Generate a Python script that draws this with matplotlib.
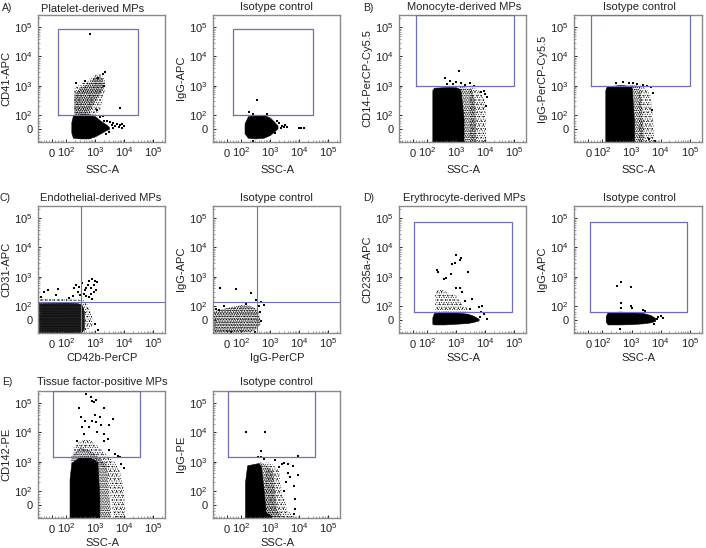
import matplotlib
matplotlib.use("Agg")
import matplotlib.pyplot as plt

W, H = 706, 548
LILAC = "#6f6fb5"
plt.rcParams["font.family"] = ["Liberation Sans", "DejaVu Sans"]
plt.rcParams["mathtext.default"] = "regular"
plt.rcParams["hatch.linewidth"] = 0.35

tick_vals = [0, 100, 1000, 10000, 100000]
tick_text = ["0", "$10^{2}$", "$10^{3}$", "$10^{4}$", "$10^{5}$"]
minor_vals = [-80, -60, -40, -20, 20, 40, 60, 80, 200, 300, 400, 500, 600, 700, 800, 900,
              2000, 3000, 4000, 5000, 6000, 7000, 8000, 9000,
              20000, 30000, 40000, 50000, 60000, 70000, 80000, 90000, 200000]

# each envelope row is x, low y, high y
a1_solid = [(150, -25, 50), (170, -60, 95), (300, -65, 105), (600, -65, 105), (1000, -50, 90), (1500, -30, 60), (2500, -5, 30), (3000, 0, 15)]
a1_mid = [(190, 100, 500), (300, 100, 800), (600, 110, 1200), (1000, 300, 2000), (1500, 500, 2000), (1900, 800, 1500)]
a1_thin = [(190, 100, 800), (300, 100, 1100), (600, 100, 1500), (1000, 100, 2300), (1500, 150, 2500), (2200, 800, 1600)]
a1_dots = [(650, 60000), (2200, 2900), (7500, 170), (1800, 90), (2600, 60), (3200, 50), (3800, 30), (4300, 45), (5000, 20), (5600, 35), (6500, 18), (7000, 30), (8200, 10), (8800, 35), (10000, 25), (4000, 5), (3000, -20), (2400, -35), (2000, 55), (1500, 85), (1300, 1800), (1900, 2500), (210, 1200), (450, 1500), (2100, 1000), (1200, 150)]

a2_solid = [(130, -30, 40), (170, -60, 90), (300, -65, 100), (600, -60, 100), (1000, -40, 80), (1400, -15, 50), (1800, 5, 25)]
a2_dots = [(350, 330), (190, 130), (250, 110), (800, 105), (2000, 40), (2300, 10), (2600, 25), (3000, 18), (3300, 28), (3700, 12), (10000, 8), (12000, 6), (15000, 8), (1700, 55), (250, -80), (1500, -30)]

b1_solid = [(150, -90, 700), (170, -90, 850), (500, -90, 900), (1000, -90, 880), (1400, -90, 750), (1800, -90, 80)]
b1_mid = [(1300, -90, 900), (2200, -90, 850), (3500, -90, 750), (4500, -90, 300), (5000, -90, -50)]
b1_thin = [(3000, -90, 880), (5000, -90, 800), (8000, -90, 500), (10000, -90, 300), (11000, -90, -50)]
b1_dots = [(1300, 3200), (400, 1900), (600, 1400), (1000, 1300), (1500, 1200), (800, 1100), (2000, 1050), (3000, 1200), (4000, 1000), (500, 1100), (7000, 600), (9000, 650), (10000, 500), (12000, 400), (11000, 200)]

b2_solid = [(125, -90, 700), (140, -90, 950), (400, -90, 1050), (800, -90, 1000), (1000, -90, 950), (1200, -90, 60)]
b2_mid = [(900, -90, 1050), (1500, -90, 1000), (2000, -90, 700), (2400, -90, 100), (2600, -90, -50)]
b2_thin = [(1800, -90, 1050), (3000, -90, 800), (4500, -90, 500), (5500, -90, 50), (6000, -90, -60)]
b2_dots = [(300, 1250), (500, 1300), (800, 1250), (1100, 1200), (1500, 1150), (2500, 1050), (3500, 950), (4500, 900), (5500, 550), (5000, 150), (4000, -70), (6500, -85)]

c1_dense = [(-100, -90, 125), (100, -90, 130), (250, -90, 125), (350, -85, 110), (420, -60, 60)]
c1_thin = [(-100, -90, 180), (100, -90, 170), (300, -90, 160), (450, -80, 150), (600, -60, 100), (800, -40, 20)]
c1_dots = [(-60, 300), (-30, 350), (40, 380), (180, 400), (220, 520), (270, 440), (350, 620), (250, 300), (300, 230), (170, 210), (120, 190), (400, 260), (450, 350), (500, 400), (550, 500), (600, 700), (700, 420), (800, 800), (900, 500), (1000, 700), (1200, 650), (1100, 350), (900, 300), (700, 260), (600, 200), (500, 220), (1300, -70), (-80, 200), (30, 230), (800, 170), (1000, -30)]

c2_mid = [(-100, -90, 60), (0, -90, 85), (100, -90, 105), (200, -85, 100), (300, -70, 85), (370, -50, 70), (460, -30, 10)]
c2_dots = [(-50, 400), (60, 370), (210, 280), (320, 160), (500, 140), (600, 110), (-80, 80), (-60, 70), (150, 120), (400, 100), (440, 60), (-20, 100), (30, -85), (300, -85), (500, -5)]

d1_solid = [(150, -25, 20), (170, -30, 50), (400, -30, 60), (1000, -25, 55), (2500, -20, 45), (4000, -12, 30), (6000, -2, 10)]
d1_thin = [(190, 60, 300), (300, 60, 380), (500, 60, 280), (1000, 60, 220), (1500, 60, 120), (2500, 60, 80)]
d1_dots = [(210, 1700), (240, 1400), (450, 900), (700, 2800), (1000, 5300), (900, 3000), (1500, 4200), (1400, 3600), (2600, 1500), (650, 1200), (370, 800), (1000, 420), (1400, 400), (1600, 300), (2000, 150), (3500, 170), (3000, 80), (6000, 90), (8000, 100), (7000, 60), (9000, 40), (12000, 10), (6500, 20)]

d2_solid = [(130, -10, 30), (150, -30, 55), (400, -30, 60), (1000, -28, 55), (2500, -22, 50), (4500, -15, 35), (6500, -5, 15)]
d2_dots = [(420, 650), (320, 480), (970, 440), (450, 130), (950, 100), (1000, 85), (450, 85), (2500, 70), (3000, 65), (8000, 20), (10000, 30), (7500, 5), (12000, 15), (400, -60), (6000, -25)]

e1_solid = [(130, -90, 250), (150, -90, 900), (300, -90, 1500), (600, -90, 1500), (1000, -90, 1100), (1200, -90, 900), (1400, -90, 50)]
e1_mid = [(150, 800, 1500), (300, 1400, 3000), (600, 1400, 2500), (1000, -90, 1800), (1500, -90, 1200), (2500, -90, 800), (3500, -90, -40)]
e1_thin = [(180, 1400, 3000), (300, 2500, 5000), (600, 2000, 6000), (1000, 1000, 4000), (2500, 500, 1700), (4500, -90, 1000), (7000, -90, 500), (10000, -90, 100), (11000, -90, -40)]
e1_dots = [(500, 200000), (700, 160000), (750, 120000), (950, 110000), (1100, 130000), (280, 70000), (2000, 70000), (4000, 30000), (1500, 35000), (1000, 40000), (800, 25000), (1100, 22000), (320, 35000), (450, 25000), (3000, 18000), (600, 15000), (1600, 18000), (350, 15000), (2000, 5000), (2700, 6000), (3000, 2500), (5000, 1900), (7000, 1500), (8000, 800), (10000, 600), (6000, 1600), (2000, 9000), (1200, 10000), (400, 9000), (230, 5000)]

e2_solid = [(135, -90, 200), (160, -90, 750), (400, -90, 900), (480, -90, 700), (600, -90, 100), (700, -90, -50), (1100, -90, -75)]
e2_mid = [(450, -90, 950), (800, -90, 750), (1300, -90, 400), (1700, -90, -30), (2500, -90, -75)]
e2_thin = [(700, -90, 1000), (1200, -90, 800), (2000, -90, 500), (2500, -90, 100), (4000, -90, -40), (6000, -90, -70), (7000, -90, -80)]
e2_dots = [(150, 10000), (650, 10500), (500, 2300), (380, 1400), (480, 1500), (600, 1250), (9000, 1600), (9000, 350), (4000, 800), (3000, 900), (1500, 1100), (6500, 150), (7500, 40), (5000, 300), (4000, 400), (6000, 700), (6500, -60), (7000, -30), (2500, 800), (3500, 200), (3000, 100), (2000, 650)]

gate_a1 = ([43, 30000], [100, 90000])
gate_a2 = ([43, 30000], [100, 90000])
gate_b1 = ([20, 100000], [1000, 262144])
gate_b2 = ([20, 100000], [1000, 262144])
gate_d1 = ([8, 85000], [57, 72000])
gate_d2 = ([15, 82000], [57, 72000])
gate_e1 = ([7, 35000], [1480, 262144])
gate_e2 = ([7, 35000], [1480, 262144])
cross_c1 = (330, 138)
cross_c2 = (355, 140)


def make_axes(left, right, top, bottom):
    ax = fig.add_axes([left / W, 1 - bottom / H, (right - left) / W, (bottom - top) / H])
    ax.set_xscale("symlog", linthresh=100, linscale=0.44)
    ax.set_yscale("symlog", linthresh=100, linscale=0.44)
    ax.set_xlim(-100, 262144)
    ax.set_ylim(-90, 262144)
    ax.set_xticks(tick_vals, tick_text)
    ax.set_yticks(tick_vals, tick_text)
    ax.set_xticks(minor_vals, minor=True)
    ax.set_yticks(minor_vals, minor=True)
    ax.tick_params(axis="both", which="major", direction="in", length=2.2, width=0.7, labelsize=8, colors="#222222")
    ax.tick_params(axis="x", which="major", pad=10.5)
    ax.tick_params(axis="y", which="major", pad=4)
    ax.tick_params(axis="both", which="minor", direction="in", length=1.2, width=0.4, color="#555555", labelbottom=False, labelleft=False)
    for lab in ax.get_xticklabels():
        lab.set_verticalalignment("baseline")
    for s in ax.spines.values():
        s.set_color("#8a8a8a")
        s.set_linewidth(1.0)
    return ax


def fill_rows(ax, rows, **kw):
    x = [r[0] for r in rows]
    ax.fill_between(x, [r[1] for r in rows], [r[2] for r in rows], **kw)


def speckle(ax, rows, hatches):
    # two hatches on top of each other so the dots do not sit on one plain grid
    for h in hatches:
        fill_rows(ax, rows, facecolor="none", edgecolor="k", hatch=h, linewidth=0)


def draw_cloud(ax, dots, solid=None, mid=None, thin=None, dense=None):
    if thin:
        speckle(ax, thin, ["....", "......."])
    if mid:
        speckle(ax, mid, ["........", "..........."])
    if dense:
        fill_rows(ax, dense, color="#2b2b2b", linewidth=0)
        speckle(ax, dense, ["..........", "............"])
    if solid:
        fill_rows(ax, solid, color="k", linewidth=0.4)
    ax.scatter([d[0] for d in dots], [d[1] for d in dots], s=0.7, c="k", linewidths=0, marker="s")


def draw_gate(ax, gate):
    xs, ys = gate
    ax.plot([xs[0], xs[1], xs[1], xs[0], xs[0]], [ys[0], ys[0], ys[1], ys[1], ys[0]], color=LILAC, lw=0.9, zorder=5)


def draw_cross(ax, cross):
    ax.axvline(cross[0], color=LILAC, lw=0.8, zorder=5)
    ax.axhline(cross[1], color=LILAC, lw=0.8, zorder=5)


def label_panel(left, bottom, title, title_x, title_y, xname, yname, xgap=25):
    fig.text(title_x / W, 1 - title_y / H, title, ha="center", va="center", fontsize=8, color="#222222")
    fig.text((left + 64) / W, 1 - (bottom + xgap) / H, xname, ha="center", va="center", fontsize=8, color="#222222")
    fig.text((left - 32) / W, 1 - (bottom - 64) / H, yname, ha="center", va="center", rotation=90, fontsize=8, color="#222222")


fig = plt.figure(figsize=(W / 100, H / 100), dpi=100)

ax = make_axes(38, 165, 15, 142)
draw_cloud(ax, a1_dots, solid=a1_solid, mid=a1_mid, thin=a1_thin)
draw_gate(ax, gate_a1)
label_panel(38, 142, "Platelet-derived MPs", 93, 9, "SSC-A", "CD41-APC", 28)

ax = make_axes(213, 340, 15, 142)
draw_cloud(ax, a2_dots, solid=a2_solid)
draw_gate(ax, gate_a2)
label_panel(213, 142, "Isotype control", 276, 7, "SSC-A", "IgG-APC", 28)

ax = make_axes(399, 526, 15, 142)
draw_cloud(ax, b1_dots, solid=b1_solid, mid=b1_mid, thin=b1_thin)
draw_gate(ax, gate_b1)
label_panel(399, 142, "Monocyte-derived MPs", 464, 7, "SSC-A", "CD14-PerCP-Cy5.5", 28)

ax = make_axes(574, 702, 15, 142)
draw_cloud(ax, b2_dots, solid=b2_solid, mid=b2_mid, thin=b2_thin)
draw_gate(ax, gate_b2)
label_panel(574, 142, "Isotype control", 639, 7, "SSC-A", "IgG-PerCP-Cy5.5", 28)

ax = make_axes(38, 165, 206, 333)
draw_cloud(ax, c1_dots, dense=c1_dense, thin=c1_thin)
draw_cross(ax, cross_c1)
label_panel(38, 333, "Endothelial-derived MPs", 101, 198, "CD42b-PerCP", "CD31-APC")

ax = make_axes(213, 340, 206, 333)
draw_cloud(ax, c2_dots, mid=c2_mid)
speckle(ax, c2_mid, ["......"])
draw_cross(ax, cross_c2)
label_panel(213, 333, "Isotype control", 276, 198, "IgG-PerCP", "IgG-APC")

ax = make_axes(399, 526, 206, 333)
draw_cloud(ax, d1_dots, solid=d1_solid, thin=d1_thin)
draw_gate(ax, gate_d1)
label_panel(399, 333, "Erythrocyte-derived MPs", 464, 198, "SSC-A", "CD235a-APC")

ax = make_axes(574, 702, 206, 333)
draw_cloud(ax, d2_dots, solid=d2_solid)
draw_gate(ax, gate_d2)
label_panel(574, 333, "Isotype control", 639, 198, "SSC-A", "IgG-APC")

ax = make_axes(38, 165, 391, 518)
draw_cloud(ax, e1_dots, solid=e1_solid, mid=e1_mid, thin=e1_thin)
draw_gate(ax, gate_e1)
label_panel(38, 518, "Tissue factor-positive MPs", 102, 382, "SSC-A", "CD142-PE")

ax = make_axes(213, 340, 391, 518)
draw_cloud(ax, e2_dots, solid=e2_solid, mid=e2_mid, thin=e2_thin)
draw_gate(ax, gate_e2)
label_panel(213, 518, "Isotype control", 276, 382, "SSC-A", "IgG-PE")

for letter, lx, ly in [("A)", 2, 8), ("B)", 363, 8), ("C)", 0, 198), ("D)", 363, 198), ("E)", 2, 382)]:
    fig.text(lx / W, 1 - ly / H, letter, ha="left", va="center", fontsize=7.5, color="#222222")

fig.savefig("out.png", dpi=100)
